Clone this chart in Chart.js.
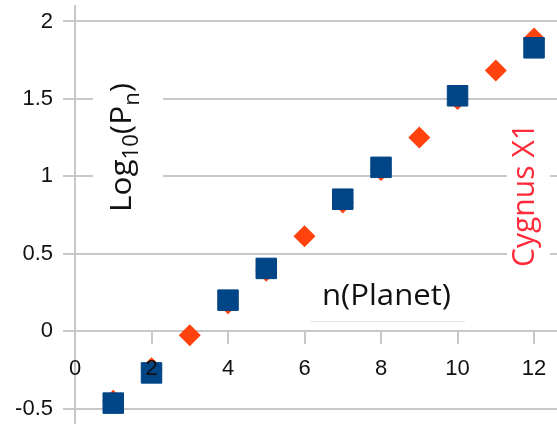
<!DOCTYPE html>
<html>
<head>
<meta charset="utf-8">
<script src="https://cdn.jsdelivr.net/npm/chart.js@4.4.0/dist/chart.umd.min.js"></script>
<style>
  body { margin: 0; background: #fff; }
  #wrap { width: 557px; height: 424px; }
</style>
</head>
<body>
<div id="wrap"><canvas id="chart"></canvas></div>
<script>
// planet periods (log10) against n
const planetN = [1, 2, 4, 5, 7, 8, 10, 12];
const planetLog = [-0.465, -0.27, 0.2, 0.405, 0.852, 1.058, 1.52, 1.83];

// Cygnus X1 series
const cygN = [1, 2, 3, 4, 5, 6, 7, 8, 9, 10, 11, 12];
const cygLog = [-0.45, -0.24, -0.026, 0.18, 0.39, 0.613, 0.83, 1.04, 1.25, 1.5, 1.684, 1.89];

const xTicks = [0, 2, 4, 6, 8, 10, 12];
const yTicks = [-0.5, 0, 0.5, 1, 1.5, 2];

const gridGray = "#c8c8c8";
const tickFont = { family: "Liberation Sans", size: 22 };

// draw a run of [text, font, dy] pieces squeezed/stretched to a given length
function drawRun(ctx, parts, len) {
    let w = 0;
    parts.forEach(([t, f]) => {
        ctx.font = f;
        w += ctx.measureText(t).width;
    });
    ctx.scale(len / w, 1);
    let px = 0;
    parts.forEach(([t, f, dy]) => {
        ctx.font = f;
        ctx.fillText(t, px, dy);
        px += ctx.measureText(t).width;
    });
}

// text labels sitting inside the plot, each on a white box
const notes = {
    id: "notes",
    afterDraw(chart) {
        const ctx = chart.ctx;
        ctx.save();
        ctx.fillStyle = "#fff";
        ctx.fillRect(93, 60, 70, 165);
        ctx.fillRect(507, 115, 43, 157);

        // faint line under n(Planet)
        ctx.strokeStyle = "#e6e6e6";
        ctx.lineWidth = 1;
        ctx.beginPath();
        ctx.moveTo(310, 321.5);
        ctx.lineTo(465, 321.5);
        ctx.stroke();

        ctx.textBaseline = "alphabetic";
        ctx.textAlign = "left";
        ctx.fillStyle = "#111";

        ctx.save();
        ctx.translate(322, 305);
        drawRun(ctx, [["n(Planet)", "30px 'Open Sans'", 0]], 129);
        ctx.restore();

        // Log10(Pn) rotated, with subscripts
        ctx.save();
        ctx.translate(131, 212);
        ctx.rotate(-Math.PI / 2);
        const big = "30px 'Open Sans'";
        const small = "21px 'Open Sans'";
        drawRun(ctx, [
            ["Log", big, 0],
            ["10", small, 7],
            ["(P", big, 0],
            ["n", small, 8],
            [")", big, 0],
        ], 129);
        ctx.restore();

        // Cygnus X1 rotated
        ctx.save();
        ctx.translate(534, 267);
        ctx.rotate(-Math.PI / 2);
        ctx.fillStyle = "#ff2a3a";
        drawRun(ctx, [["Cygnus X1", "31px 'Open Sans'", 0]], 144);
        ctx.restore();

        ctx.restore();
    },
};

const data = {
    datasets: [
        {
            label: "Planets",
            data: planetN.map((n, i) => ({ x: n, y: planetLog[i] })),
            pointStyle: "rect",
            pointRadius: 14.5,
            pointBorderWidth: 1,
            backgroundColor: "#004586",
            borderColor: "#004586",
        },
        {
            label: "Cygnus X1",
            data: cygN.map((n, i) => ({ x: n, y: cygLog[i] })),
            pointStyle: "rectRot",
            pointRadius: 11,
            pointBorderWidth: 0,
            backgroundColor: "#ff420e",
            borderColor: "#ff420e",
        },
    ],
};

const options = {
    responsive: true,
    maintainAspectRatio: false,
    animation: false,
    layout: { autoPadding: false, padding: { top: 6, right: 0, bottom: 0, left: 0 } },
    plugins: {
        legend: { display: false },
        tooltip: { enabled: false },
    },
    scales: {
        x: {
            type: "linear",
            min: 0,
            max: 12.6,
            position: { y: 0 },
            afterBuildTicks: (axis) => {
                axis.ticks = xTicks.map((v) => ({ value: v }));
            },
            afterFit: (axis) => {
                axis.paddingLeft = 0;
                axis.paddingRight = 0;
            },
            grid: {
                drawOnChartArea: false,
                drawTicks: true,
                tickLength: 12,
                color: gridGray,
                lineWidth: 2,
            },
            border: { display: true, color: gridGray, width: 2 },
            ticks: {
                z: 1,
                padding: 13,
                maxRotation: 0,
                autoSkip: false,
                color: "#111",
                font: tickFont,
                callback: (v) => String(v),
            },
        },
        y: {
            type: "linear",
            min: -0.6,
            max: 2.1,
            position: "left",
            afterBuildTicks: (axis) => {
                axis.ticks = yTicks.map((v) => ({ value: v }));
            },
            afterFit: (axis) => {
                axis.width = 75;
                axis.paddingTop = 0;
                axis.paddingBottom = 0;
            },
            grid: {
                drawTicks: true,
                tickLength: 12,
                color: gridGray,
                lineWidth: 2,
            },
            border: { display: true, color: gridGray, width: 2 },
            ticks: {
                padding: 10,
                autoSkip: false,
                color: "#111",
                font: tickFont,
                callback: (v) => String(v),
            },
        },
    },
};

const ctx = document.getElementById("chart").getContext("2d");
const chart = new Chart(ctx, {
    type: "scatter",
    data: data,
    options: options,
    plugins: [notes],
});
</script>
</body>
</html>
